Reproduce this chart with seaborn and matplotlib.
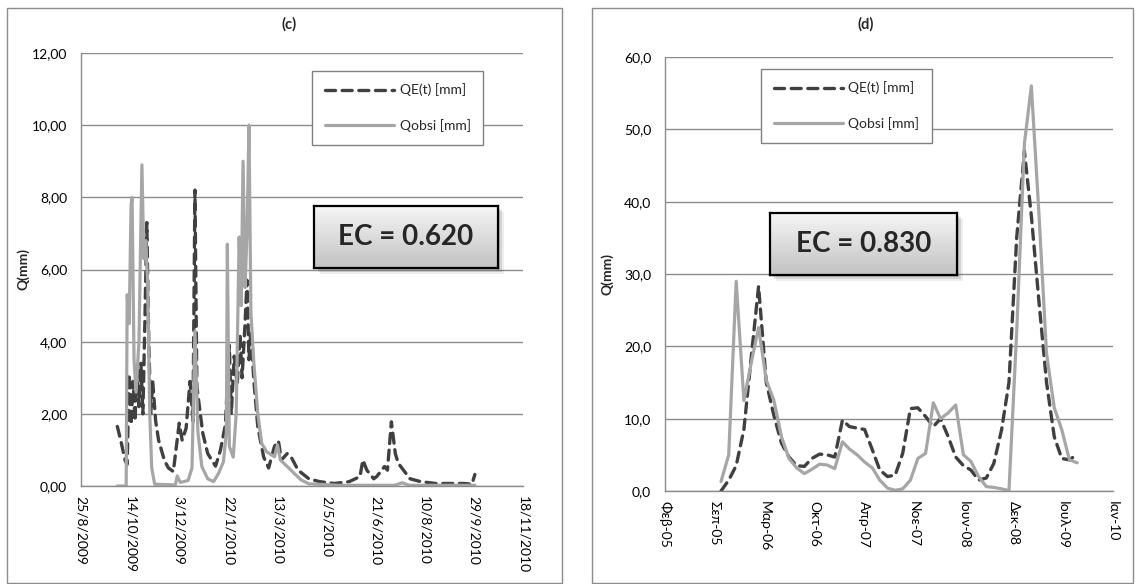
import matplotlib
matplotlib.use('Agg')
import matplotlib.pyplot as plt
from matplotlib.patches import Rectangle
from matplotlib.ticker import FuncFormatter, MultipleLocator
from matplotlib.colors import LinearSegmentedColormap
import numpy as np
import pandas as pd
import seaborn as sns

# ---- panel (c): daily series, hydrological year 2009-10 ----
qe_c_dates = ['2009-10-01', '2009-10-05', '2009-10-09', '2009-10-11', '2009-10-13', '2009-10-15',
              '2009-10-17', '2009-10-19', '2009-10-21', '2009-10-23', '2009-10-25', '2009-10-27',
              '2009-10-29', '2009-10-31', '2009-11-02', '2009-11-04', '2009-11-06', '2009-11-09',
              '2009-11-12', '2009-11-18', '2009-11-22', '2009-11-27', '2009-12-03', '2009-12-06',
              '2009-12-10', '2009-12-14', '2009-12-17', '2009-12-19', '2009-12-21', '2009-12-27',
              '2010-01-01', '2010-01-09', '2010-01-14', '2010-01-19', '2010-01-23', '2010-01-25',
              '2010-01-28', '2010-01-31', '2010-02-03', '2010-02-05', '2010-02-08', '2010-02-10',
              '2010-02-12', '2010-02-14', '2010-02-17', '2010-02-21', '2010-02-27', '2010-03-04',
              '2010-03-10', '2010-03-14', '2010-03-17', '2010-03-23', '2010-03-27', '2010-04-03',
              '2010-04-14', '2010-04-25', '2010-05-10', '2010-05-25', '2010-06-05', '2010-06-08',
              '2010-06-12', '2010-06-19', '2010-06-22', '2010-06-30', '2010-07-03', '2010-07-07',
              '2010-07-11', '2010-07-14', '2010-07-26', '2010-08-06', '2010-08-21', '2010-09-19',
              '2010-09-27', '2010-09-30']
qe_c_vals = [1.65, 1.20, 0.70, 0.60, 3.10, 1.70,
             2.90, 1.80, 3.30, 2.20, 3.40, 2.00,
             4.50, 7.30, 4.00, 2.00, 2.90, 1.80,
             1.27, 0.70, 0.50, 0.40, 1.74, 1.27,
             1.60, 2.90, 1.80, 8.20, 2.75, 1.46,
             0.90, 0.55, 1.00, 1.70, 3.90, 2.00,
             3.60, 2.80, 4.20, 3.00, 4.50, 5.70,
             3.50, 4.30, 2.90, 1.64, 0.80, 0.50,
             1.10, 1.25, 0.72, 0.90, 0.80, 0.44,
             0.20, 0.12, 0.07, 0.12, 0.26, 0.72,
             0.44, 0.20, 0.26, 0.54, 0.44, 1.78,
             0.90, 0.63, 0.20, 0.12, 0.07, 0.07,
             0.05, 0.32]

obs_c_dates = ['2009-10-01', '2009-10-10', '2009-10-11', '2009-10-13', '2009-10-15', '2009-10-16',
               '2009-10-18', '2009-10-20', '2009-10-23', '2009-10-26', '2009-10-28', '2009-10-30',
               '2009-11-01', '2009-11-03', '2009-11-05', '2009-11-08', '2009-11-29', '2009-12-01',
               '2009-12-04', '2009-12-12', '2009-12-16', '2009-12-19', '2009-12-22', '2009-12-26',
               '2010-01-01', '2010-01-07', '2010-01-12', '2010-01-17', '2010-01-20', '2010-01-21',
               '2010-01-23', '2010-01-27', '2010-01-30', '2010-02-02', '2010-02-04', '2010-02-06',
               '2010-02-08', '2010-02-10', '2010-02-12', '2010-02-14', '2010-02-17', '2010-02-21',
               '2010-02-25', '2010-03-02', '2010-03-10', '2010-03-13', '2010-03-16', '2010-03-23',
               '2010-03-30', '2010-04-06', '2010-04-14', '2010-05-15', '2010-07-10', '2010-07-18',
               '2010-07-25', '2010-09-30']
obs_c_vals = [0.00, 0.00, 5.30, 4.50, 7.80, 8.00,
              3.50, 2.60, 4.00, 8.90, 6.30, 6.80,
              5.50, 2.00, 0.50, 0.05, 0.03, 0.28,
              0.10, 0.15, 0.50, 4.30, 1.50, 0.54,
              0.20, 0.12, 0.35, 0.67, 1.50, 6.70,
              1.10, 0.80, 2.00, 6.90, 5.00, 9.00,
              5.50, 7.00, 10.00, 4.80, 3.40, 2.00,
              1.18, 0.95, 0.81, 1.14, 0.72, 0.54,
              0.35, 0.17, 0.06, 0.02, 0.02, 0.09,
              0.02, 0.02]

# ---- panel (d): monthly series Oct 2005 - Sep 2009 ----
months_d = pd.date_range('2005-10-01', periods=48, freq='MS')
qe_d_vals = [0.0, 1.5, 3.5, 8.5, 19.0, 28.3, 15.0, 10.5, 6.6, 4.7, 3.5, 3.4,
             4.5, 5.1, 5.0, 4.7, 9.8, 8.9, 8.7, 8.5, 5.7, 2.9, 2.0, 2.2,
             5.2, 11.4, 11.5, 10.3, 8.9, 10.0, 7.5, 4.7, 3.5, 2.9, 1.5, 1.8,
             3.8, 8.4, 15.0, 35.0, 47.0, 38.0, 26.0, 15.0, 7.5, 4.5, 4.3, 5.1]
obs_d_vals = [1.3, 5.0, 29.0, 12.5, 18.0, 22.6, 15.3, 12.6, 7.5, 4.5, 3.2, 2.4,
              3.0, 3.7, 3.6, 3.1, 6.8, 5.8, 5.0, 4.0, 3.2, 1.5, 0.4, 0.1,
              0.3, 1.5, 4.5, 5.2, 12.2, 10.0, 10.8, 11.9, 5.0, 4.1, 2.0, 0.6,
              0.5, 0.3, 0.05, 22.0, 48.0, 56.0, 38.0, 19.0, 11.5, 8.5, 4.3, 3.9]
greek_ticks_d = ['Φεβ-05', 'Σεπ-05', 'Μαρ-06', 'Οκτ-06', 'Απρ-07',
                 'Νοε-07', 'Ιουν-08', 'Δεκ-08', 'Ιουλ-09', 'Ιαν-10']

DARK = '#404040'
LIGHT = '#a6a6a6'
GRID = '#8c8c8c'

sns.set_style('white')
plt.rcParams['font.family'] = ['Lato', 'Open Sans', 'DejaVu Sans']

W, H = 1140, 584
fig = plt.figure(figsize=(W / 100, H / 100), dpi=100)


def fx(px):
    return px / W


def fy(py):
    return 1 - py / H


# panel frames
for x0, x1 in [(7, 562), (592, 1133)]:
    fig.add_artist(Rectangle((fx(x0), fy(583)), fx(x1 - x0), (583 - 8) / H,
                             transform=fig.transFigure, fill=False, ec='#8c8c8c', lw=1.0))


def draw_panel(ax, qe_x, qe_y, obs_x, obs_y):
    sns.lineplot(x=qe_x, y=qe_y, ax=ax, color=DARK, lw=2.4, label='QE(t) [mm]')
    ln = ax.lines[-1]
    ln.set_dashes([3.0, 2.0])
    ln.set_dash_capstyle('round')
    sns.lineplot(x=obs_x, y=obs_y, ax=ax, color=LIGHT, lw=2.3, label='Qobsi [mm]')
    ax.lines[-1].set_solid_capstyle('round')
    ax.set_axisbelow(True)
    ax.yaxis.grid(True, color=GRID, lw=1.0)
    ax.xaxis.grid(False)
    for s in ['top', 'right']:
        ax.spines[s].set_visible(False)
    for s in ['left', 'bottom']:
        ax.spines[s].set_color(GRID)
        ax.spines[s].set_linewidth(1.0)
    ax.tick_params(axis='both', length=0, labelsize=10, colors='black')
    ax.tick_params(axis='y', pad=10)
    ax.tick_params(axis='x', pad=7)
    ax.set_xlabel('')
    ax.set_ylabel('Q(mm)', fontsize=10, fontweight='bold')


def add_legend(ax, anchor):
    ax.legend(loc='upper left', bbox_to_anchor=anchor, frameon=True, fancybox=False,
              edgecolor='#808080', framealpha=1, handlelength=5.0, labelspacing=1.65,
              borderpad=0.9, handletextpad=0.4, fontsize=10, borderaxespad=0)


def ec_box(x0, y0, x1, y1, txt):
    rect = [fx(x0), fy(y1), fx(x1 - x0), (y1 - y0) / H]
    for k, a in [(6, 0.10), (4, 0.18), (2, 0.25)]:
        sh = fig.add_axes([rect[0] + fx(k), rect[1] - k / H, rect[2], rect[3]])
        sh.set_facecolor('#606060')
        sh.patch.set_alpha(a)
        sh.set_xticks([])
        sh.set_yticks([])
        for s in sh.spines.values():
            s.set_visible(False)
    bx = fig.add_axes(rect)
    cmap = LinearSegmentedColormap.from_list('ec', ['#f6f6f6', '#c2c2c2'])
    bx.imshow(np.linspace(0, 1, 100).reshape(-1, 1), cmap=cmap, aspect='auto', extent=[0, 1, 0, 1])
    bx.set_xticks([])
    bx.set_yticks([])
    for s in bx.spines.values():
        s.set_color('black')
        s.set_linewidth(1.6)
    bx.text(0.5, 0.5, txt, ha='center', va='center', fontsize=20, fontweight='bold',
            transform=bx.transAxes)


# ---- panel (c) ----
AXC = (81, 53, 523, 486)
ax_c = fig.add_axes([fx(AXC[0]), fy(AXC[3]), fx(AXC[2] - AXC[0]), (AXC[3] - AXC[1]) / H])
draw_panel(ax_c, pd.to_datetime(qe_c_dates), qe_c_vals, pd.to_datetime(obs_c_dates), obs_c_vals)
start_c = pd.Timestamp('2009-08-25')
ticks_c = [start_c + pd.Timedelta(days=50 * k) for k in range(10)]
ax_c.set_xlim(ticks_c[0], ticks_c[-1])
ax_c.set_xticks(ticks_c)
ax_c.set_xticklabels([f'{t.day}/{t.month}/{t.year}' for t in ticks_c], rotation=-90, va='top', ha='center')
ax_c.set_ylim(0, 12)
ax_c.yaxis.set_major_locator(MultipleLocator(2))
ax_c.yaxis.set_major_formatter(FuncFormatter(lambda v, p: f'{v:.2f}'.replace('.', ',')))
ax_c.yaxis.set_label_coords((29 - AXC[0]) / (AXC[2] - AXC[0]), 0.5)
add_legend(ax_c, ((312 - AXC[0]) / (AXC[2] - AXC[0]), (AXC[3] - 71) / (AXC[3] - AXC[1])))
fig.text(fx(289), fy(24), '(c)', ha='center', va='center', fontsize=10.5, fontweight='bold')

# ---- panel (d) ----
AXD = (665, 57, 1113, 491)
ax_d = fig.add_axes([fx(AXD[0]), fy(AXD[3]), fx(AXD[2] - AXD[0]), (AXD[3] - AXD[1]) / H])
draw_panel(ax_d, months_d, qe_d_vals, months_d, obs_d_vals)
start_d = pd.Timestamp('2005-02-18')
ticks_d = [start_d + pd.Timedelta(days=200 * k) for k in range(10)]
ax_d.set_xlim(ticks_d[0], ticks_d[-1])
ax_d.set_xticks(ticks_d)
ax_d.set_xticklabels(greek_ticks_d, rotation=-90, va='top', ha='center')
ax_d.set_ylim(0, 60)
ax_d.yaxis.set_major_locator(MultipleLocator(10))
ax_d.yaxis.set_major_formatter(FuncFormatter(lambda v, p: f'{v:.1f}'.replace('.', ',')))
ax_d.yaxis.set_label_coords((614 - AXD[0]) / (AXD[2] - AXD[0]), 0.5)
add_legend(ax_d, ((761 - AXD[0]) / (AXD[2] - AXD[0]), (AXD[3] - 69) / (AXD[3] - AXD[1])))
fig.text(fx(866), fy(24), '(d)', ha='center', va='center', fontsize=10.5, fontweight='bold')

ec_box(314, 206, 498, 268, 'EC = 0.620')
ec_box(770, 213, 957, 275, 'EC = 0.830')

fig.savefig('out.png', dpi=100)
